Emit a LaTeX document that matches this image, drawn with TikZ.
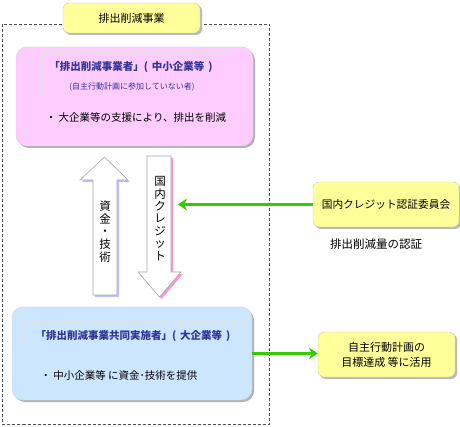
\documentclass[tikz,border=0pt]{standalone}
\usepackage{fontspec}
\setmainfont{Noto Sans CJK JP}
\usepackage{tikz}
\usetikzlibrary{positioning, shadows, arrows.meta}
\definecolor{pinkfill}{RGB}{255,204,255}
\definecolor{bluefill}{RGB}{204,230,255}
\definecolor{yellowfill}{RGB}{255,255,153}
\definecolor{navytext}{RGB}{51,51,153}
\definecolor{greenline}{RGB}{51,204,0}
\tikzstyle{frame} = [densely dashed, gray!60!black, line width=0.8pt]
\tikzstyle{box} = [rectangle, rounded corners=11pt, draw=gray!35, drop shadow={shadow xshift=2pt, shadow yshift=-2pt, fill=gray!60, opacity=1}]
\tikzstyle{note} = [rectangle, rounded corners=6pt, draw=gray!45, fill=yellowfill, align=center, font=\fontsize{11}{15}\selectfont, drop shadow={shadow xshift=2pt, shadow yshift=-2pt, fill=gray!55, opacity=1}]
\tikzstyle{headframe} = [rectangle, draw=black!12, line width=0.4pt]
\tikzstyle{headtext} = [text=navytext, font=\fontsize{10.5}{12}\selectfont\bfseries]
\tikzstyle{bodytext} = [font=\fontsize{10.5}{12}\selectfont]
\tikzstyle{blockarrow} = [draw=gray!70, fill=white, line width=0.6pt]
\tikzstyle{vtext} = [align=center, font=\fontsize{11.5}{12.6}\selectfont]
\tikzstyle{greenarrow} = [line width=3pt, greenline, -{Stealth[length=9pt, width=12pt, inset=3pt]}]

\begin{document}
\begin{tikzpicture}[x=1pt, y=-1pt]
	\useasboundingbox (0,0) rectangle (460,427);
	\draw [frame] (2.5,24) rectangle (269.5,424);
	\node (title) [note, minimum width=137, minimum height=30] at (131.5,18) {排出削減事業};

	\node (emitter) [box, fill=pinkfill, minimum width=237, minimum height=99] at (134.5,96.5) {};
	\node (emitterhead) [headframe, minimum width=185, minimum height=45] at (134.5,74.5) {};
	\node (emittername) [headtext] at (131,67) {「排出削減事業者」(\hspace{4pt}中小企業等\hspace{4pt})};
	\node (emitternote) [headtext, font=\fontsize{8}{9}\selectfont] at (132,87) {(自主行動計画に参加していない者)};
	\node (emitterrole) [bodytext] at (136,118) {・ 大企業等の支援により、排出を削減};

	\node (partner) [box, fill=bluefill, minimum width=240, minimum height=93] at (132,353.5) {};
	\node (partnerhead) [headframe, minimum width=221, minimum height=23] at (132.5,333.5) {};
	\node (partnername) [headtext] at (133,336) {「排出削減事業共同実施者」(\hspace{4pt}大企業等\hspace{4pt})};
	\node (partnerrole) [bodytext] at (119,375) {・ 中小企業等 に資金･技術を提供};

	\draw [blockarrow, drop shadow={shadow xshift=2pt, shadow yshift=-2pt, fill=blue!25, opacity=1}]
		(104.5,157) -- (128,180) -- (117,180) -- (117,295) -- (93,295) -- (93,180) -- (80,180) -- cycle;
	\draw [blockarrow, drop shadow={shadow xshift=2pt, shadow yshift=-2pt, fill=magenta!40, opacity=1}]
		(147,156) -- (171,156) -- (171,272) -- (181,272) -- (159.5,297) -- (138,272) -- (147,272) -- cycle;
	\node (fundtext) [vtext] at (105,231.5) {資\\金\\・\\技\\術};
	\node (credittext) [vtext, font=\fontsize{11.5}{12.4}\selectfont] at (160,218.5) {国\\内\\ク\\レ\\ジ\\ッ\\ト};

	\node (committee) [note, minimum width=146, minimum height=45, font=\fontsize{10.7}{12}\selectfont] at (386,204.5) {国内クレジット認証委員会};
	\node (verify) [below=8pt of committee, xshift=-10pt, font=\fontsize{11.5}{13}\selectfont] {排出削減量の認証};
	\node (goal) [note, minimum width=137, minimum height=45] at (386.5,354.5) {自主行動計画の\\目標達成 等に活用};

	\coordinate (creditin) at (178,202);
	\draw [greenarrow] (committee.west) -- (creditin |- committee.west);
	\draw [greenarrow] (partner.east) -- (partner.east -| goal.west);
\end{tikzpicture}
\end{document}
